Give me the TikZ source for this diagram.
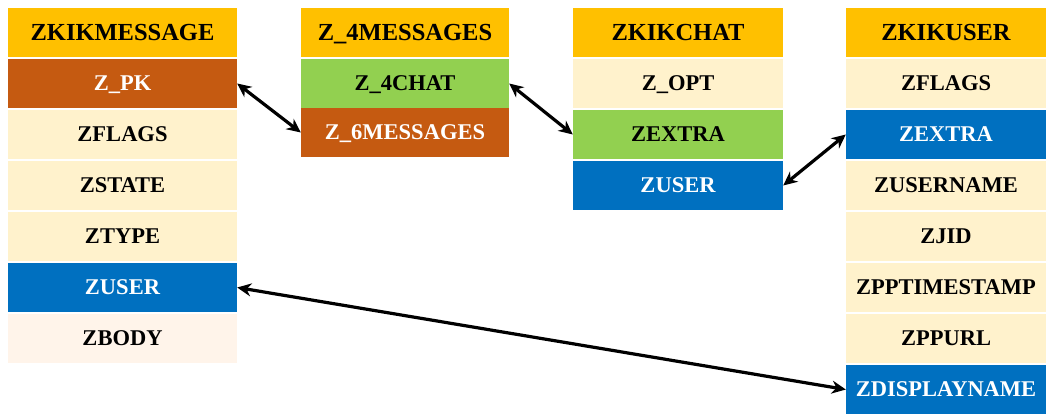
\documentclass[tikz,border=0pt]{standalone}
\usepackage{fontspec}
\setmainfont{Liberation Serif}
\usetikzlibrary{arrows.meta}

\definecolor{headgold}{HTML}{FFC000}
\definecolor{keyrust}{HTML}{C55A11}
\definecolor{cellcream}{HTML}{FFF2CC}
\definecolor{cellpeach}{HTML}{FFF4EA}
\definecolor{linkgreen}{HTML}{92D050}
\definecolor{linkblue}{HTML}{0070C0}

\begin{document}
\begin{tikzpicture}[x=1pt,y=-1pt,
  cell/.style={rectangle,inner sep=0pt,minimum height=49pt,text depth=0pt,
    font=\fontsize{22.5}{24}\selectfont\bfseries,text=black},
  head/.style={cell,fill=headgold,font=\fontsize{24.5}{26}\selectfont\bfseries},
  plain/.style={cell,fill=cellcream},
  rust/.style={cell,fill=keyrust,text=white},
  green/.style={cell,fill=linkgreen},
  blue/.style={cell,fill=linkblue,text=white},
  link/.style={line width=3.2pt,{Stealth[length=14pt,width=13pt]}-{Stealth[length=14pt,width=13pt]}}]
\useasboundingbox (0,0) rectangle (1048,413);

% ZKIKMESSAGE table
\begin{scope}[every node/.append style={minimum width=229pt}]
\node[head]  (msg)       at (122.5,32.5)  {ZKIKMESSAGE};
\node[rust]  (msgpk)     at (122.5,83.5)  {Z\_PK};
\node[plain] (msgflags)  at (122.5,134.5) {ZFLAGS};
\node[plain] (msgstate)  at (122.5,185.5) {ZSTATE};
\node[plain] (msgtype)   at (122.5,236.5) {ZTYPE};
\node[blue]  (msguser)   at (122.5,287.5) {ZUSER};
\node[plain,fill=cellpeach] (msgbody) at (122.5,338.5) {ZBODY};
\end{scope}

% Z_4MESSAGES table
\begin{scope}[every node/.append style={minimum width=208pt}]
\node[head]  (join)      at (405,32.5)  {Z\_4MESSAGES};
\node[green] (joinchat)  at (405,83.5)  {Z\_4CHAT};
\node[rust]  (joinmsgs)  at (405,132.5) {Z\_6MESSAGES};
\end{scope}

% ZKIKCHAT table
\begin{scope}[every node/.append style={minimum width=210pt}]
\node[head]  (chat)      at (678,32.5)  {ZKIKCHAT};
\node[plain] (chatopt)   at (678,83.5)  {Z\_OPT};
\node[green] (chatextra) at (678,134.5) {ZEXTRA};
\node[blue]  (chatuser)  at (678,185.5) {ZUSER};
\end{scope}

% ZKIKUSER table
\begin{scope}[every node/.append style={minimum width=200pt}]
\node[head]  (user)      at (946,32.5)  {ZKIKUSER};
\node[plain] (userflags) at (946,83.5)  {ZFLAGS};
\node[blue]  (userextra) at (946,134.5) {ZEXTRA};
\node[plain] (username)  at (946,185.5) {ZUSERNAME};
\node[plain] (userjid)   at (946,236.5) {ZJID};
\node[plain] (userstamp) at (946,287.5) {ZPPTIMESTAMP};
\node[plain] (userurl)   at (946,338.5) {ZPPURL};
\node[blue]  (userdisp)  at (946,389.5) {ZDISPLAYNAME};
\end{scope}

% links
\draw[link] (msgpk.east) -- (joinmsgs.west);
\draw[link] (joinchat.east) -- (chatextra.west);
\draw[link] (chatuser.east) -- (userextra.west);
\draw[link] (msguser.east) -- (userdisp.west);
\end{tikzpicture}
\end{document}
